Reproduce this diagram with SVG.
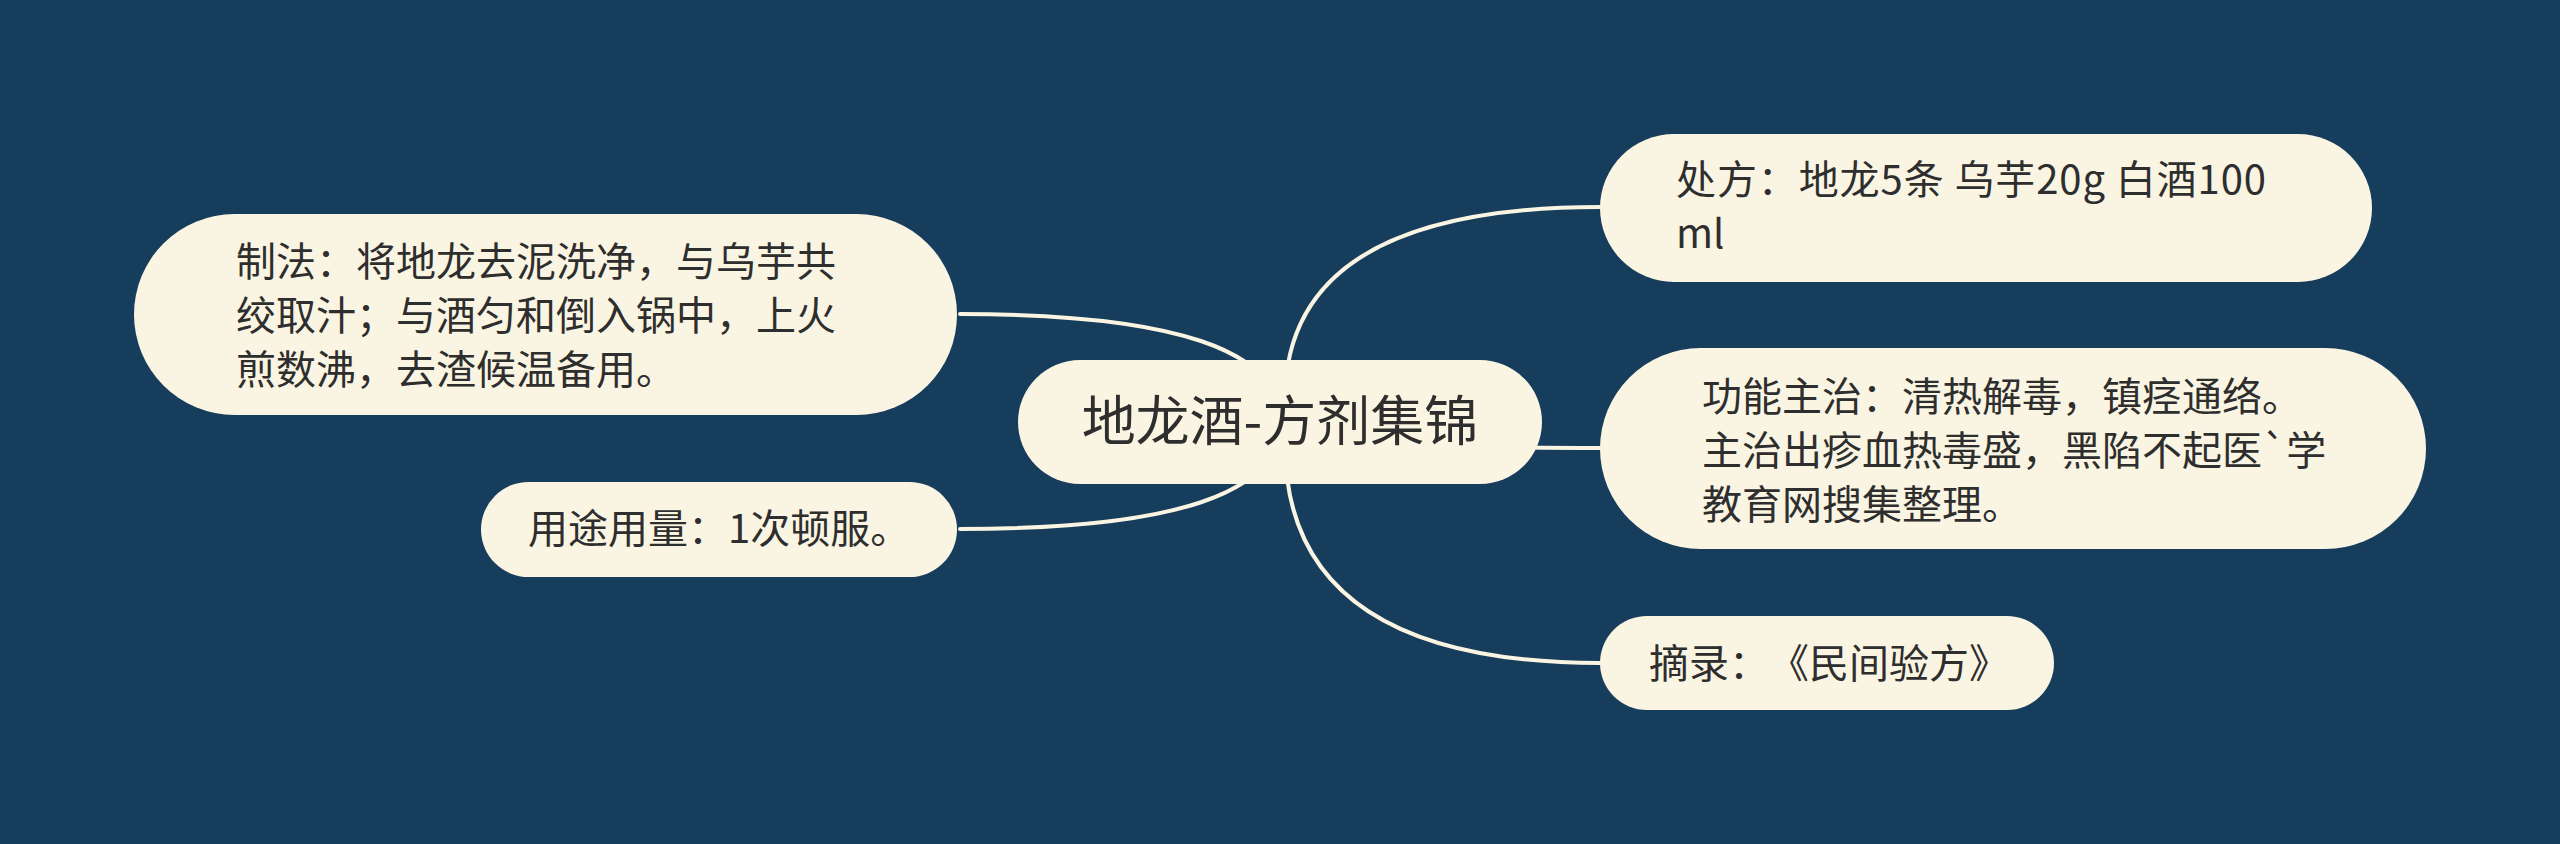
<svg xmlns="http://www.w3.org/2000/svg" width="2560" height="844" viewBox="0 0 2560 844">
<style>
.node{fill:#faf5e2;}
.t{font-family:"Noto Sans CJK SC","Noto Sans",sans-serif;font-size:40px;fill:#2e2e2e;text-spacing-trim:space-all;}
.root{font-size:54px;}
.edge{fill:none;stroke:#faf5e2;stroke-width:4;stroke-linecap:round;}
</style>
<rect x="0" y="0" width="2560" height="844" fill="#173d5d"/>
<g id="connectors">
<path class="edge" d="M1280 422 Q1282 314 960 314"/>
<path class="edge" d="M1280 422 Q1282 529 960 529"/>
<path class="edge" d="M1285 400 Q1285 207 1600 207"/>
<path class="edge" d="M1285 422 Q1285 448 1600 448"/>
<path class="edge" d="M1285 444 Q1285 663 1600 663"/>
</g>
<g id="root">
<rect class="node" x="1018" y="360" width="524" height="124" rx="62"/>
<text class="t root" x="1280" y="441" text-anchor="middle">地龙酒-方剂集锦</text>
</g>
<g id="zhifa">
<rect class="node" x="134" y="214" width="823" height="201" rx="100.5"/>
<text class="t" x="236" y="276">制法：将地龙去泥洗净，与乌芋共</text>
<text class="t" x="236" y="330">绞取汁；与酒匀和倒入锅中，上火</text>
<text class="t" x="236" y="384">煎数沸，去渣候温备用。</text>
</g>
<g id="yongtu">
<rect class="node" x="481" y="482" width="476" height="95" rx="47.5"/>
<text class="t" x="528" y="543">用途用量：1次顿服。</text>
</g>
<g id="chufang">
<rect class="node" x="1600" y="134" width="772" height="148" rx="74"/>
<text class="t" x="1676" y="194" textLength="590" lengthAdjust="spacing">处方：地龙5条 乌芋20g 白酒100</text>
<text class="t" x="1676" y="248">ml</text>
</g>
<g id="gongneng">
<rect class="node" x="1600" y="348" width="826" height="201" rx="100.5"/>
<text class="t" x="1702" y="411">功能主治：清热解毒，镇痉通络。</text>
<text class="t" x="1702" y="465">主治出疹血热毒盛，黑陷不起医`学</text>
<text class="t" x="1702" y="519">教育网搜集整理。</text>
</g>
<g id="zhailu">
<rect class="node" x="1600" y="616" width="454" height="94" rx="47"/>
<text class="t" x="1649" y="678">摘录：《民间验方》</text>
</g>
</svg>
